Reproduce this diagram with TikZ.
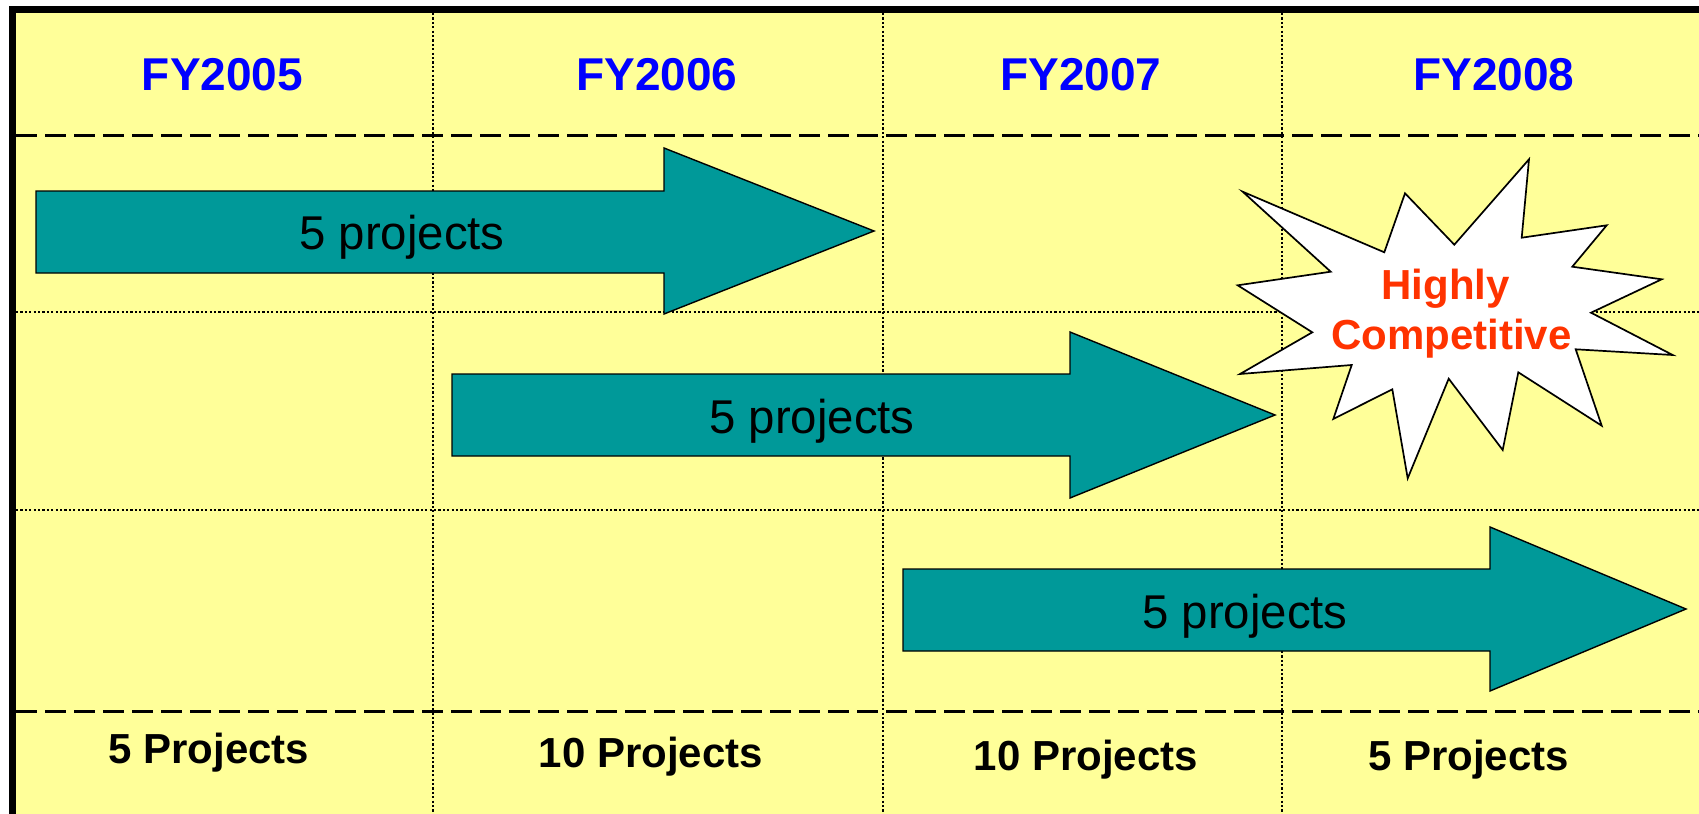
\documentclass[tikz,border=0pt]{standalone}
\usepackage{fontspec}
\setmainfont{Liberation Sans}
\definecolor{bgyellow}{HTML}{FFFF99}
\definecolor{arrowteal}{HTML}{009999}
\definecolor{yearblue}{HTML}{0000FF}
\definecolor{burstred}{HTML}{FF3300}
\tikzset{
  griddash/.style={line width=1.5pt, dash pattern=on 10.5pt off 4pt},
  griddot/.style={line width=1.3pt, dash pattern=on 1.1pt off 1.1pt},
  bigarrow/.style={fill=arrowteal, draw=black, line width=0.7pt, line join=miter},
  burst/.style={fill=white, draw=black, line width=0.85pt, line join=miter},
  yearlabel/.style={font=\fontsize{23}{27}\selectfont\bfseries, text=yearblue, inner sep=0pt, anchor=base},
  arrowlabel/.style={font=\fontsize{23.7}{28}\selectfont, text=black, inner sep=0pt, anchor=base},
  countlabel/.style={font=\fontsize{21}{25}\selectfont\bfseries, text=black, inner sep=0pt, anchor=base},
  burstlabel/.style={font=\fontsize{21}{25}\selectfont\bfseries, text=burstred, inner sep=0pt, anchor=base},
}
\begin{document}
\begin{tikzpicture}[x=0.5pt,y=-0.5pt]
\useasboundingbox (0,0) rectangle (1699,814);
% background
\fill[white] (0,0) rectangle (1699,814);
\fill[bgyellow] (9,6) rectangle (1699,814);
% grid
\foreach \gx in {433,883,1282} \draw[griddot] (\gx,13) -- (\gx,814);
\foreach \gy in {312,510} \draw[griddot] (16,\gy) -- (1699,\gy);
\foreach \gy in {135,711} \draw[griddash] (16,\gy) -- (1699,\gy);
% border
\draw[line width=3.5pt] (12.5,814) -- (12.5,9.5) -- (1699,9.5);
% arrows
\draw[bigarrow] (36,191) -- (664,191) -- (664,148) -- (874,231) -- (664,314) -- (664,273) -- (36,273) -- cycle;
\draw[bigarrow] (452,374) -- (1070,374) -- (1070,332) -- (1275,415) -- (1070,498) -- (1070,456) -- (452,456) -- cycle;
\draw[bigarrow] (903,569) -- (1490,569) -- (1490,527) -- (1686,609) -- (1490,691) -- (1490,651) -- (903,651) -- cycle;
% starburst
\draw[burst] (1242.7,191.7) -- (1384.3,252.3) -- (1405,193.3) -- (1454.3,244.7) -- (1529,159.3) -- (1521.7,237.7)
  -- (1606.7,225.3) -- (1572.3,266.7) -- (1661.7,279.3) -- (1591,312.7) -- (1672.7,355) -- (1575.7,349.3)
  -- (1601.7,425.7) -- (1518.3,372.3) -- (1502.7,450) -- (1448.7,378.7) -- (1407.7,478.3) -- (1392.3,389.3)
  -- (1333.3,419) -- (1351.7,365) -- (1240,374) -- (1312.3,332.3) -- (1237.7,285.3) -- (1330.7,271.7) -- cycle;
% headers
\node[yearlabel] (fy05) at (222.5,90) {FY2005};
\node[yearlabel] (fy06) at (657,90) {FY2006};
\node[yearlabel] (fy07) at (1081,90) {FY2007};
\node[yearlabel] (fy08) at (1494,90) {FY2008};
% arrow labels
\node[arrowlabel] (a1) at (402,249.5) {5 projects};
\node[arrowlabel] (a2) at (812,433.5) {5 projects};
\node[arrowlabel] (a3) at (1245,628) {5 projects};
% burst text
\node[burstlabel] (hc1) at (1445.5,299) {Highly};
\node[burstlabel] (hc2) at (1451.5,349.3) {Competitive};
% bottom counts
\node[countlabel] (c05) at (208.8,763.3) {5 Projects};
\node[countlabel] (c06) at (651,767.3) {10 Projects};
\node[countlabel] (c07) at (1086,770.5) {10 Projects};
\node[countlabel] (c08) at (1468.5,770) {5 Projects};
\end{tikzpicture}
\end{document}
